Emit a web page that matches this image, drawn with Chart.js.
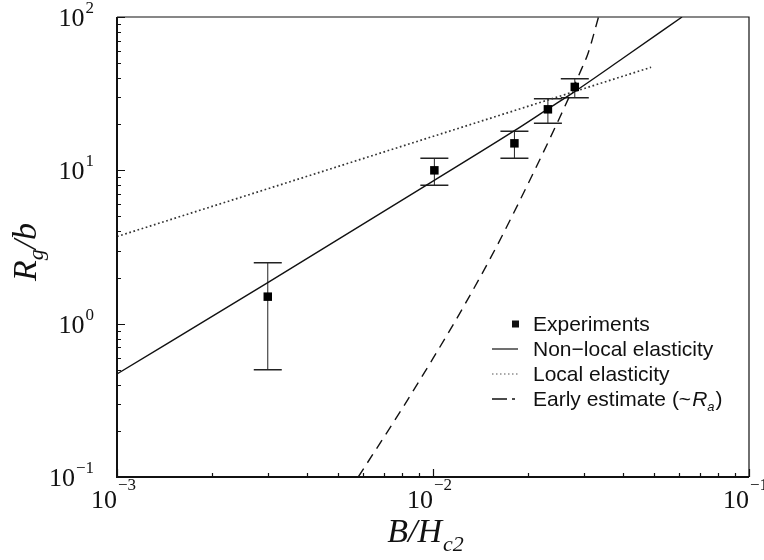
<!DOCTYPE html>
<html>
<head>
<meta charset="utf-8">
<script src="https://cdn.jsdelivr.net/npm/chart.js@4.4.0/dist/chart.umd.min.js"></script>
<style>
  html, body { margin: 0; padding: 0; background: #fff; }
</style>
</head>
<body>
<canvas id="rgChart" width="764" height="560"></canvas>
<script>
// Experiments (square markers with error bars)
const expX = [0.003, 0.0101, 0.0181, 0.0231, 0.0281];
const expY = [1.5, 10, 15, 25, 35];
const expLow = [0.5, 8, 12, 20.3, 29.7];
const expHigh = [2.5, 12, 18, 29.3, 39.5];

// Non-local elasticity (solid)
const nonlocalX = [0.001, 0.003, 0.01, 0.018, 0.023, 0.028, 0.04, 0.0614];
const nonlocalY = [0.47, 1.85, 8.5, 18, 25, 32.5, 54, 100];

// Local elasticity (dotted)
const localX = [0.001, 0.049];
const localY = [3.7, 47];

// Early estimate (dashed)
const earlyX = [0.0058, 0.00794, 0.01, 0.0126, 0.01585, 0.01995, 0.0251, 0.0295, 0.031, 0.0334];
const earlyY = [0.1, 0.274, 0.593, 1.33, 3.15, 8.1, 21.8, 45.7, 58.5, 100];

// Decade ticks and their exponents
const xDecades = [0.001, 0.01, 0.1];
const xExponents = ['\u22123', '\u22122', '\u22121'];
const yDecades = [0.1, 1, 10, 100];
const yExponents = ['\u22121', '0', '1', '2'];

const legendLabels = ['Experiments', 'Non\u2212local elasticity', 'Local elasticity', 'Early estimate (~'];

const toPoints = (xs, ys) => xs.map((x, i) => ({ x: x, y: ys[i] }));

const INK = '#111';
const SERIF = '"Liberation Serif", "Times New Roman", serif';
const SANS = '"Liberation Sans", Arial, sans-serif';

function minorValues(decades, max) {
  const out = [];
  decades.forEach(d => {
    for (let k = 2; k <= 9; k++) {
      if (d * k < max) out.push(d * k);
    }
  });
  return out;
}

// draws "10" with a raised exponent; align = 'right' puts the whole label's right edge at x,
// align = 'base' puts the right edge of "10" at x
function drawPower(ctx, exp, x, baseline, align, raise) {
  ctx.font = '26px ' + SERIF;
  const wBase = ctx.measureText('10').width;
  ctx.font = '17px ' + SERIF;
  const wExp = ctx.measureText(exp).width;
  let x0 = align === 'right' ? x - wBase - wExp - 1 : x - wBase;
  ctx.textAlign = 'left';
  ctx.textBaseline = 'alphabetic';
  ctx.font = '26px ' + SERIF;
  ctx.fillText('10', x0, baseline);
  ctx.font = '17px ' + SERIF;
  ctx.fillText(exp, x0 + wBase + 1, baseline - raise);
}

const errorBars = {
  id: 'errorBars',
  beforeDatasetsDraw(chart) {
    const { ctx, scales: { x, y } } = chart;
    ctx.save();
    ctx.strokeStyle = '#222';
    expX.forEach((v, i) => {
      const px = x.getPixelForValue(v);
      const top = y.getPixelForValue(expHigh[i]);
      const bot = y.getPixelForValue(expLow[i]);
      ctx.lineWidth = 1;
      ctx.beginPath();
      ctx.moveTo(px, top);
      ctx.lineTo(px, bot);
      ctx.stroke();
      ctx.lineWidth = 1.5;
      ctx.beginPath();
      ctx.moveTo(px - 14, top);
      ctx.lineTo(px + 14, top);
      ctx.moveTo(px - 14, bot);
      ctx.lineTo(px + 14, bot);
      ctx.stroke();
    });
    ctx.restore();
  }
};

const frame = {
  id: 'frame',
  afterDraw(chart) {
    const { ctx, chartArea: a, scales: { x, y } } = chart;
    ctx.save();
    ctx.fillStyle = INK;
    ctx.strokeStyle = INK;

    // box
    ctx.lineWidth = 1.2;
    ctx.beginPath();
    ctx.moveTo(a.left, a.top);
    ctx.lineTo(a.right, a.top);
    ctx.lineTo(a.right, a.bottom);
    ctx.stroke();
    ctx.lineWidth = 2;
    ctx.beginPath();
    ctx.moveTo(a.left, a.top);
    ctx.lineTo(a.left, a.bottom);
    ctx.lineTo(a.right, a.bottom);
    ctx.stroke();

    // inward ticks on left and bottom
    ctx.lineWidth = 1.2;
    ctx.beginPath();
    yDecades.forEach(v => {
      const py = Math.round(y.getPixelForValue(v)) + 0.5;
      ctx.moveTo(a.left, py); ctx.lineTo(a.left + 8, py);
    });
    minorValues(yDecades, 100).forEach(v => {
      const py = Math.round(y.getPixelForValue(v)) + 0.5;
      ctx.moveTo(a.left, py); ctx.lineTo(a.left + 4, py);
    });
    xDecades.forEach(v => {
      const px = Math.round(x.getPixelForValue(v)) + 0.5;
      ctx.moveTo(px, a.bottom); ctx.lineTo(px, a.bottom - 8);
    });
    minorValues(xDecades, 0.1).forEach(v => {
      const px = Math.round(x.getPixelForValue(v)) + 0.5;
      ctx.moveTo(px, a.bottom); ctx.lineTo(px, a.bottom - 4);
    });
    ctx.stroke();

    // tick labels
    yDecades.forEach((v, i) => {
      drawPower(ctx, yExponents[i], a.left - 23, y.getPixelForValue(v) + 9, 'right', 13);
    });
    xDecades.forEach((v, i) => {
      drawPower(ctx, xExponents[i], x.getPixelForValue(v), a.bottom + 31, 'base', 18);
    });

    // x title: B/H_c2
    ctx.textAlign = 'left';
    ctx.textBaseline = 'alphabetic';
    ctx.font = 'italic 34px ' + SERIF;
    const xt = 'B/H';
    const wXt = ctx.measureText(xt).width;
    ctx.font = 'italic 22px ' + SERIF;
    const wSub = ctx.measureText('c2').width;
    const xStart = (a.left + a.right) / 2 - (wXt + wSub) / 2 - 8;
    ctx.font = 'italic 34px ' + SERIF;
    ctx.fillText(xt, xStart, a.bottom + 65);
    ctx.font = 'italic 22px ' + SERIF;
    ctx.fillText('c2', xStart + wXt + 1, a.bottom + 74);

    // y title: R_g/b
    ctx.save();
    ctx.translate(a.left - 81, a.top + 235);
    ctx.rotate(-Math.PI / 2);
    ctx.font = 'italic 34px ' + SERIF;
    const wR = ctx.measureText('R').width;
    const wB = ctx.measureText('/b').width;
    ctx.font = 'italic 22px ' + SERIF;
    const wG = ctx.measureText('g').width;
    const yStart = -(wR + wG + wB) / 2;
    ctx.font = 'italic 34px ' + SERIF;
    ctx.fillText('R', yStart, 0);
    ctx.fillText('/b', yStart + wR + wG, 0);
    ctx.font = 'italic 22px ' + SERIF;
    ctx.fillText('g', yStart + wR, 7);
    ctx.restore();

    // legend
    const lx = a.right - 257;
    const ly = a.top + 307;
    const step = 25;
    const tx = lx + 41;
    ctx.fillRect(lx + 20, ly - 3.5, 7, 7);
    ctx.lineWidth = 1.2;
    ctx.beginPath();
    ctx.moveTo(lx, ly + step); ctx.lineTo(lx + 26, ly + step);
    ctx.stroke();
    ctx.strokeStyle = '#555';
    ctx.setLineDash([1.5, 2.5]);
    ctx.beginPath();
    ctx.moveTo(lx, ly + 2 * step); ctx.lineTo(lx + 26, ly + 2 * step);
    ctx.stroke();
    ctx.strokeStyle = INK;
    ctx.setLineDash([]);
    ctx.lineWidth = 1.5;
    ctx.beginPath();
    ctx.moveTo(lx, ly + 3 * step); ctx.lineTo(lx + 15, ly + 3 * step);
    ctx.moveTo(lx + 20, ly + 3 * step); ctx.lineTo(lx + 23, ly + 3 * step);
    ctx.stroke();

    ctx.font = '21px ' + SANS;
    ctx.textBaseline = 'alphabetic';
    legendLabels.forEach((t, i) => {
      ctx.fillText(t, tx, ly + i * step + 7);
    });
    const bl = ly + 3 * step + 7;
    let cx = tx + ctx.measureText(legendLabels[3]).width + 1;
    ctx.font = 'italic 21px ' + SANS;
    ctx.fillText('R', cx, bl);
    cx += ctx.measureText('R').width;
    ctx.font = 'italic 13px ' + SANS;
    ctx.fillText('a', cx, bl + 5);
    cx += ctx.measureText('a').width + 1;
    ctx.font = '21px ' + SANS;
    ctx.fillText(')', cx, bl);

    ctx.restore();
  }
};

new Chart(document.getElementById('rgChart'), {
  type: 'line',
  data: {
    datasets: [
      {
        label: 'Experiments',
        data: toPoints(expX, expY),
        showLine: false,
        pointStyle: 'rect',
        pointRadius: 6,
        backgroundColor: '#000',
        borderColor: '#000',
        borderWidth: 0
      },
      {
        label: 'Non-local elasticity',
        data: toPoints(nonlocalX, nonlocalY),
        borderColor: INK,
        borderWidth: 1.4,
        pointRadius: 0,
        cubicInterpolationMode: 'monotone'
      },
      {
        label: 'Local elasticity',
        data: toPoints(localX, localY),
        borderColor: '#333',
        borderWidth: 1.7,
        borderDash: [1.7, 2.6],
        pointRadius: 0
      },
      {
        label: 'Early estimate',
        data: toPoints(earlyX, earlyY),
        borderColor: INK,
        borderWidth: 1.4,
        borderDash: [10, 7],
        pointRadius: 0,
        cubicInterpolationMode: 'monotone'
      }
    ]
  },
  options: {
    responsive: false,
    animation: false,
    devicePixelRatio: 1,
    layout: { padding: { left: 117, right: 15, top: 17, bottom: 83 } },
    scales: {
      x: { type: 'logarithmic', min: 0.001, max: 0.1, display: false },
      y: { type: 'logarithmic', min: 0.1, max: 100, display: false }
    },
    plugins: {
      legend: { display: false },
      tooltip: { enabled: false }
    }
  },
  plugins: [errorBars, frame]
});
</script>
</body>
</html>
